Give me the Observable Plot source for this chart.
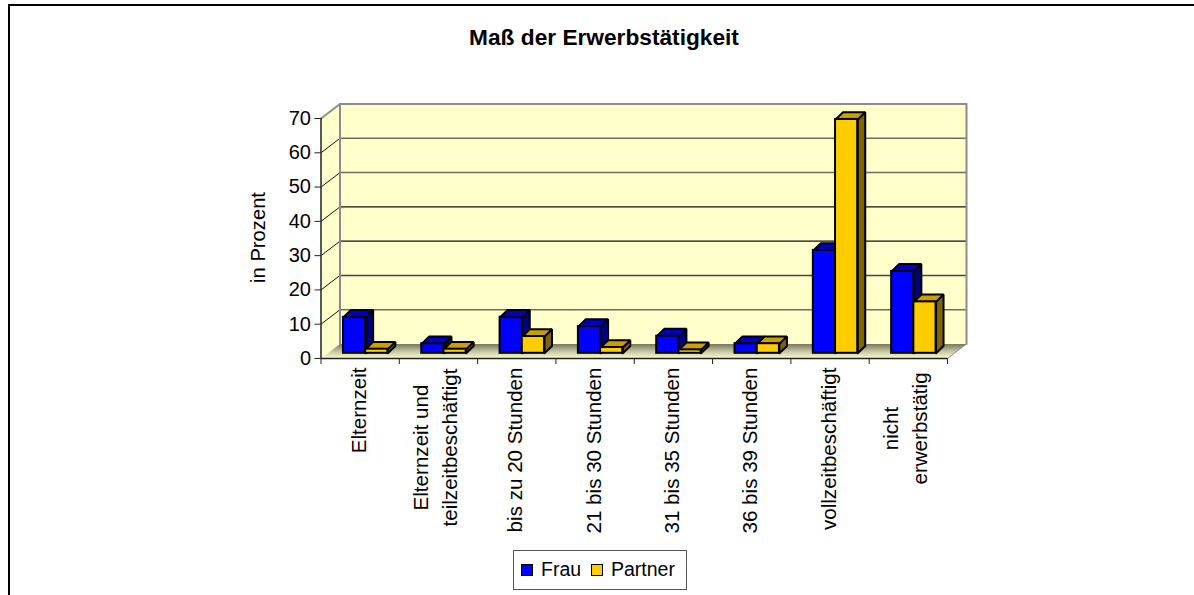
<!DOCTYPE html>
<html lang="de">
<head>
<meta charset="utf-8">
<script src="https://cdn.jsdelivr.net/npm/d3@7"></script>
<script src="https://cdn.jsdelivr.net/npm/@observablehq/plot@0.6"></script>
<style>
  html, body { margin: 0; padding: 0; background: #fff; overflow: hidden; }
  body { width: 1194px; height: 595px; position: relative; font-family: "Liberation Sans", Arial, sans-serif; color: #000; }
  svg { display: block; }
  #frame { position: absolute; left: 8px; top: 4px; right: 0; bottom: 0; border-top: 2px solid #000; border-left: 2px solid #000; }
  #title { position: absolute; left: 0; width: 1208px; top: 24px; text-align: center; font-weight: bold; font-size: 22.7px; line-height: 26px; }
  #legend { position: absolute; left: 513px; top: 550px; width: 172px; height: 38px; border: 1.5px solid #555; background: #fff; }
  #legend i { position: absolute; top: 12.5px; width: 10px; height: 10px; border: 1.5px solid #000; }
  #legend span { position: absolute; top: 7px; font-size: 19.5px; line-height: 22px; }
</style>
</head>
<body>
<div id="chart"></div>
<div id="frame"></div>
<div id="title">Maß der Erwerbstätigkeit</div>
<div id="legend">
  <i style="left:7px;background:#0000ff"></i><span style="left:27px">Frau</span>
  <i style="left:77px;background:#ffcc00"></i><span style="left:97px">Partner</span>
</div>
<script>
const singleLabels = [
  [0, "Elternzeit"], [2, "bis zu 20 Stunden"], [3, "21 bis 30 Stunden"], [4, "31 bis 35 Stunden"],
  [5, "36 bis 39 Stunden"], [6, "vollzeitbeschäftigt"]
];
const doubleLabels = [[1, "Elternzeit und\nteilzeitbeschäftigt"]];
const tallLabels = [[7, "nicht\nerwerbstätig"]];
const frau    = [10.5, 2.8, 10.5, 7.8, 5.0, 2.8, 30.0, 23.9];
const partner = [1.2, 1.2, 4.9, 1.7, 1.0, 2.8, 68.2, 15.0];
const yTicks  = [0, 10, 20, 30, 40, 50, 60, 70];

const W = 1194, H = 595;
const left = 320.5, right = 947, top_ = 118, bottom = 358;
const pxX = (right - left) / 8, pxY = (bottom - top_) / 70;
const wallX = 19 / pxX, wallY = 14.5 / pxY;    // depth of the chart box, data units
const barW = 22.2 / pxX;                       // bar width
const barDX = 7.5 / pxX, barDY = 7.3 / pxY;    // depth of a bar
const baseDx = 5.5, baseDy = -5.2;             // where bars stand on the floor, px
const gridColour = v => (v === 30 || v === 40) ? "#111" : v === 20 ? "#444" : "#6e6e5e";

const poly = (id, pts) => [...pts, pts[0]].map(([x, y]) => ({ id, x, y }));
const face = (pts, fill, o = {}) =>
  Plot.line(poly(0, pts), { x: "x", y: "y", fill, stroke: "none", ...o });

function barMarks(values, from, front, side, topc) {
  const sides = values.flatMap((v, i) => {
    const r = i + 0.5 + from + barW;
    return poly(i, [[r, 0], [r + barDX, barDY], [r + barDX, v + barDY], [r, v]]);
  });
  const tops = values.flatMap((v, i) => {
    const l = i + 0.5 + from, r = l + barW;
    return poly(i, [[l, v], [r, v], [r + barDX, v + barDY], [l + barDX, v + barDY]]);
  });
  const common = { x: "x", y: "y", z: "id", stroke: "#000", strokeWidth: 2, strokeLinejoin: "miter", dx: baseDx, dy: baseDy };
  return [
    Plot.line(sides, { ...common, fill: side }),
    Plot.line(tops, { ...common, fill: topc }),
    Plot.rect(values, {
      x1: (d, i) => i + 0.5 + from, x2: (d, i) => i + 0.5 + from + barW,
      y1: () => 0, y2: d => d, inset: 0,
      fill: front, stroke: "#000", strokeWidth: 2, dx: baseDx, dy: baseDy
    })
  ];
}

const plot = Plot.plot({
  width: W, height: H,
  marginLeft: left, marginRight: W - right, marginTop: top_, marginBottom: H - bottom,
  style: { background: "transparent", fontFamily: '"Liberation Sans", Arial, sans-serif', color: "#000" },
  x: { type: "linear", domain: [0, 8], axis: null },
  y: { type: "linear", domain: [0, 70], axis: null },
  marks: [
    () => {
      const defs = d3.create("svg:defs");
      const g = defs.append("linearGradient").attr("id", "floor").attr("x1", 0).attr("x2", 0).attr("y1", 0).attr("y2", 1);
      g.append("stop").attr("offset", 0).attr("stop-color", "#77775c");
      g.append("stop").attr("offset", 0.5).attr("stop-color", "#c4c4a0");
      g.append("stop").attr("offset", 1).attr("stop-color", "#ffffd4");
      return defs.node();
    },
    // walls and floor
    face([[wallX, wallY], [8 + wallX, wallY], [8 + wallX, 70 + wallY], [wallX, 70 + wallY]], "#ffffcc"),
    face([[0, 0], [wallX, wallY], [wallX, 70 + wallY], [0, 70]], "#ffffcc"),
    face([[0, 0], [8, 0], [8 + wallX, wallY], [wallX, wallY]], "url(#floor)"),
    // gridlines on back wall and left wall
    Plot.ruleY(yTicks.filter(d => d > 0 && d < 70), { y: d => d + wallY, x1: () => wallX, x2: () => 8 + wallX, stroke: gridColour, strokeWidth: 1.4 }),
    Plot.line(yTicks.slice(1, -1).flatMap(d => poly(d, [[0, d], [wallX, d + wallY]]).slice(0, 2)), { x: "x", y: "y", z: "id", stroke: "#111", strokeWidth: 1 }),
    // gray box edges
    Plot.line([[0, 70], [wallX, 70 + wallY], [8 + wallX, 70 + wallY], [8 + wallX, wallY]], { x: "0", y: "1", stroke: "#8c8c8c", strokeWidth: 2 }),
    Plot.line([[wallX, wallY], [wallX, 70 + wallY]], { x: "0", y: "1", stroke: "#8c8c8c", strokeWidth: 2 }),
    Plot.line([[8, 0], [8 + wallX, wallY]], { x: "0", y: "1", stroke: "#8c8c8c", strokeWidth: 1 }),
    // bars
    ...barMarks(frau, -barW, "#0000ff", "#000080", "#0000c0"),
    ...barMarks(partner, 0, "#ffcc00", "#806600", "#c9a000"),
    // axes
    Plot.axisY({ ticks: yTicks, tickSize: 6, tickPadding: 4, fontSize: 20, label: null, stroke: "#222" }),
    Plot.axisX({ ticks: d3.range(0, 9), tickSize: 6, tickFormat: () => "", label: null, stroke: "#222" }),
    Plot.ruleX([0], { stroke: "#222", strokeWidth: 1.5 }),
    Plot.ruleY([0], { stroke: "#222", strokeWidth: 1.5 }),
    // category labels
    Plot.text(singleLabels, { x: d => d[0] + 0.5, y: () => 0, text: d => d[1], rotate: -90, textAnchor: "end", dx: -1, dy: 9, fontSize: 20.6, fill: "#000" }),
    Plot.text(doubleLabels, { x: d => d[0] + 0.5, y: () => 0, text: d => d[1], rotate: -90, textAnchor: "middle", lineHeight: 1.4, dx: -5, dy: 89, fontSize: 20.6, fill: "#000" }),
    Plot.text(tallLabels, { x: d => d[0] + 0.5, y: () => 0, text: d => d[1], rotate: -90, textAnchor: "middle", lineHeight: 1.4, dx: -5, dy: 70, fontSize: 20.6, fill: "#000" }),
    Plot.text(["in Prozent"], { x: () => -0.8, y: () => 35.3, text: d => d, rotate: -90, fontSize: 20.2, fill: "#000" })
  ]
});
document.getElementById("chart").append(plot);
</script>
</body>
</html>
